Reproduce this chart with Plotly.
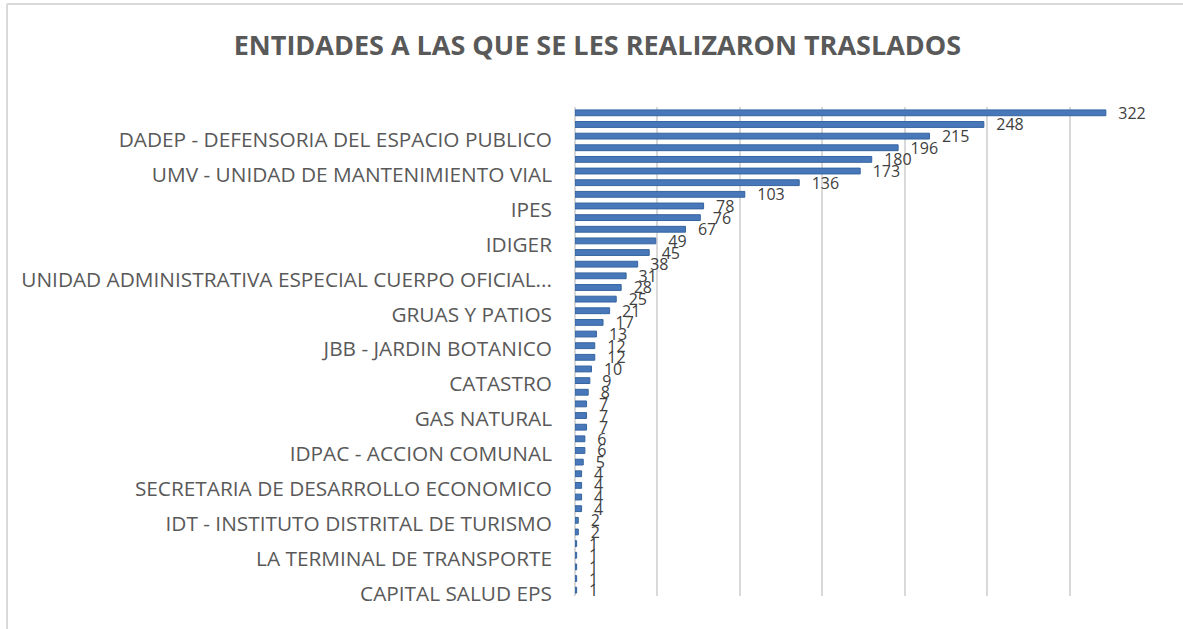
import plotly.graph_objects as go

# Values, top bar to bottom bar
values = [322, 248, 215, 196, 180, 173, 136, 103, 78, 76, 67, 49, 45, 38, 31, 28, 25, 21,
          17, 13, 12, 12, 10, 9, 8, 7, 7, 7, 6, 6, 5, 4, 4, 4, 4, 2, 2, 1, 1, 1, 1, 1]

# Visible category labels (every third category, from top to bottom)
tick_labels = [
    "DADEP - DEFENSORIA DEL ESPACIO PUBLICO",
    "UMV - UNIDAD DE MANTENIMIENTO VIAL",
    "IPES",
    "IDIGER",
    "UNIDAD ADMINISTRATIVA ESPECIAL CUERPO OFICIAL...",
    "GRUAS Y PATIOS",
    "JBB - JARDIN BOTANICO",
    "CATASTRO",
    "GAS NATURAL",
    "IDPAC - ACCION COMUNAL",
    "SECRETARIA DE DESARROLLO ECONOMICO",
    "IDT - INSTITUTO DISTRITAL DE TURISMO",
    "LA TERMINAL DE TRANSPORTE",
    "CAPITAL SALUD EPS",
]

title = "ENTIDADES A LAS QUE SE LES REALIZARON TRASLADOS"

n = len(values)
ypos = list(range(n))
tickvals = [2.3 + 3 * i for i in range(len(tick_labels))]

fig = go.Figure(go.Bar(
    x=values,
    y=ypos,
    orientation="h",
    marker=dict(color="#4878BA", line=dict(color="#35649f", width=1)),
    text=values,
    texttemplate="   %{x}",
    textposition="outside",
    constraintext="none",
    textangle=0,
    textfont=dict(family="Open Sans", size=16, color="#404040"),
    cliponaxis=False,
    width=0.5,
))

W, H = 1183, 629
L, R, T, B = 575, 31, 107, 33
pw, ph = W - L - R, H - T - B

def px_x(p):
    return (p - L) / pw

def px_y(p):
    return (H - B - p) / ph

fig.update_layout(
    width=W, height=H,
    margin=dict(l=L, r=R, t=T, b=B),
    paper_bgcolor="white", plot_bgcolor="white",
    showlegend=False,
    title=dict(text="<b>" + title + "</b>", x=0.505, xanchor="center", y=0.927, yanchor="middle",
               font=dict(family="Open Sans", size=27, color="#595959")),
    xaxis=dict(range=[0, 350], dtick=50, showticklabels=False, showgrid=True,
               gridcolor="#d9d9d9", gridwidth=2, zeroline=True, zerolinecolor="#d9d9d9",
               zerolinewidth=2, fixedrange=True),
    yaxis=dict(range=[n - 0.5, -0.5], autorange=False, tickvals=tickvals, ticktext=tick_labels,
               showgrid=False, zeroline=False, ticks="", ticklabelstandoff=22,
               tickfont=dict(family="Open Sans", size=20.8, color="#595959")),
    shapes=[
        dict(type="line", xref="paper", yref="paper", x0=px_x(7), x1=px_x(7),
             y0=px_y(4), y1=px_y(H), line=dict(color="#d9d9d9", width=2)),
        dict(type="line", xref="paper", yref="paper", x0=px_x(7), x1=px_x(W),
             y0=px_y(4), y1=px_y(4), line=dict(color="#d9d9d9", width=2)),
    ],
)

fig.write_html("out.html", config={"displayModeBar": False},
               post_script="document.body.style.margin='0';document.body.style.overflow='hidden';")
